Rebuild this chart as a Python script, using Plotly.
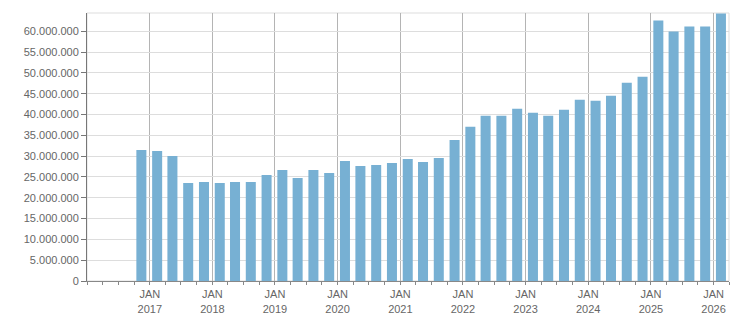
import plotly.graph_objects as go
import pandas as pd

# Quarterly periods (bar centres, mid-quarter dates)
periods = pd.date_range("2016-11-01", periods=38, freq="3MS") + pd.Timedelta(days=12)
dates = [d.strftime("%Y-%m-%d") for d in periods]

values = [
    31.49, 31.25, 30.05, 23.54, 23.78, 23.54, 23.78, 23.78,
    25.47, 26.67, 24.75, 26.67, 25.95, 28.84, 27.64, 27.88,
    28.36, 29.33, 28.60, 29.57, 33.90, 37.04, 39.69, 39.69,
    41.38, 40.41, 39.69, 41.13, 43.54, 43.30, 44.51, 47.64,
    49.08, 62.58, 59.93, 61.13, 61.13, 64.27,
]
values = [v * 1e6 for v in values]

years = list(range(2017, 2027))
tick_vals = [f"{y}-01-01" for y in years]
tick_text = [f"JAN<br>{y}" for y in years]

fig = go.Figure()
fig.add_trace(go.Bar(
    x=dates, y=values,
    width=58.4 * 86400000,
    marker=dict(color="#77b0d3", line=dict(width=0)),
))

fig.update_layout(
    width=751, height=313,
    margin=dict(l=87, r=22, t=13, b=32, autoexpand=False),
    plot_bgcolor="white", paper_bgcolor="white",
    separators=",.",
    showlegend=False,
    font=dict(family="Liberation Sans, Arial, sans-serif", size=11, color="#666666"),
    shapes=[dict(type="rect", xref="paper", yref="paper", x0=0, x1=1, y0=0, y1=1,
                 line=dict(color="#dddddd", width=1), layer="below")],
)

fig.update_xaxes(
    type="date",
    automargin=False,
    range=["2016-01-01", "2026-04-01"],
    tickmode="array", tickvals=tick_vals, ticktext=tick_text,
    showgrid=True, gridcolor="#b4b4b4", gridwidth=1,
    ticks="outside", ticklen=3, tickcolor="#888888",
    showline=True, linecolor="#888888", linewidth=1,
    minor=dict(ticks="outside", ticklen=3, tickcolor="#888888",
               tickmode="linear", tick0="2016-01-01", dtick="M3", showgrid=False),
    tickfont=dict(size=11, color="#666666"),
    zeroline=False,
)
fig.update_yaxes(
    automargin=False,
    range=[0, 64.4e6],
    tickmode="linear", tick0=0, dtick=5e6,
    tickformat=",d",
    showgrid=True, gridcolor="#dddddd", gridwidth=1,
    ticks="outside", ticklen=5, tickcolor="#777777",
    showline=True, linecolor="#777777", linewidth=1,
    zeroline=False,
    tickfont=dict(size=11, color="#666666"),
)

fig.write_html("out.html")
